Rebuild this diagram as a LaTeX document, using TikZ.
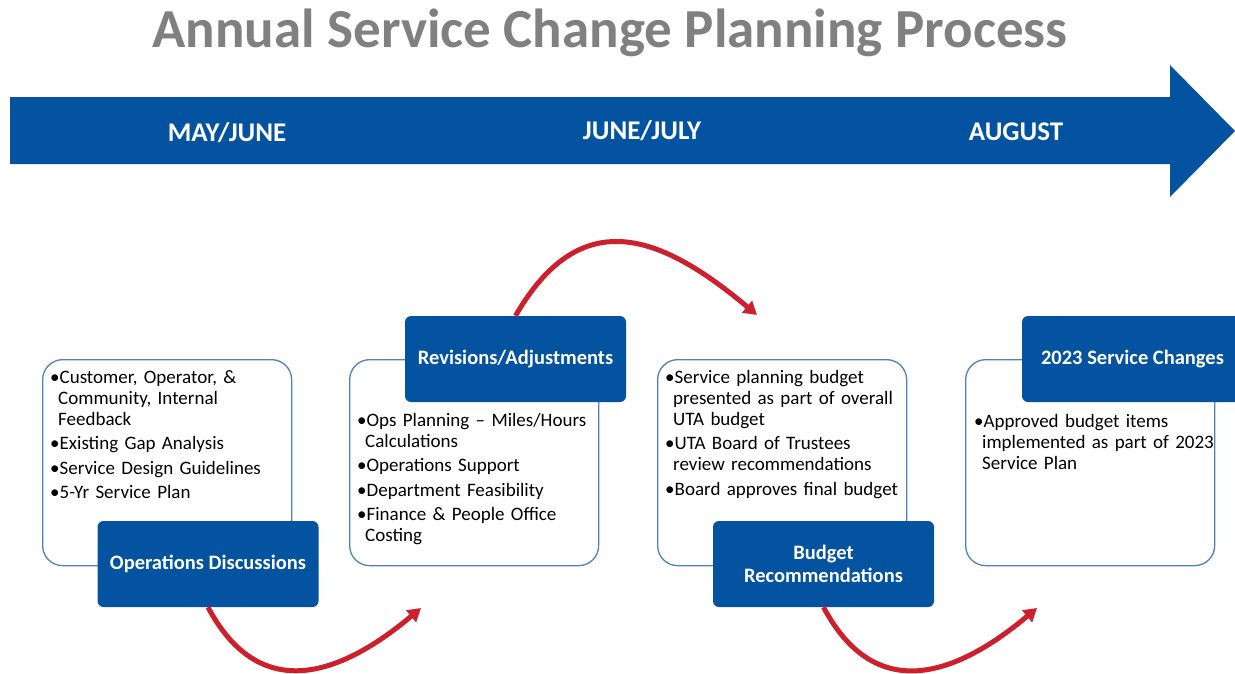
\documentclass[tikz,border=0pt]{standalone}
\usepackage{fontspec}
\setmainfont{Carlito}
\usetikzlibrary{positioning,arrows.meta}
\definecolor{utablue}{RGB}{4,83,160}
\definecolor{edgeblue}{RGB}{79,129,189}
\definecolor{flowred}{RGB}{205,32,44}
\definecolor{titlegray}{RGB}{128,128,128}
\newcommand{\bitem}[1]{\noindent\hangindent=8pt\hangafter=1\textbullet#1\par}
\tikzset{
  panel/.style={draw=edgeblue, line width=1.3pt, rounded corners=20pt, fill=white, minimum width=249pt, minimum height=206pt, inner sep=0pt},
  tag/.style={fill=utablue, rounded corners=6pt, minimum width=221pt, minimum height=86pt, text=white, align=center, font=\fontsize{20.5}{22.5}\selectfont\bfseries},
  month/.style={text=white, font=\fontsize{27}{30}\selectfont\bfseries},
  bullets/.style={text width=240pt, align=left, inner sep=0pt, font=\fontsize{19}{21}\selectfont, execute at begin node={\setlength{\parskip}{3.5pt}}},
  flow/.style={draw=flowred, line width=5pt, -{Triangle[length=13pt,width=15pt]}, looseness=1.3}
}
\begin{document}
\begin{tikzpicture}[x=1pt,y=1pt]

\clip (0,0) rectangle (1235,-673);

% title
\node (title) [text=titlegray, font=\fontsize{55}{62}\selectfont\bfseries] at (610,-33) {Annual Service Change Planning Process};

% timeline arrow
\fill[utablue] (10,-97) -- (1170,-97) -- (1170,-65) -- (1235,-131) -- (1170,-197) -- (1170,-164) -- (10,-164) -- cycle;
\node (may) [month] at (227,-133) {MAY/JUNE};
\node (june) [month] at (642,-131) {JUNE/JULY};
\node (aug) [month] at (1016,-132) {AUGUST};

% panels
\node (box1) [panel, anchor=north west] at (42,-359) {};
\node (box2) [panel, anchor=north west] at (349,-359) {};
\node (box3) [panel, anchor=north west] at (657,-359) {};
\node (box4) [panel, anchor=north west] at (965,-359) {};

\node (txt1) [bullets, below right=11pt and 8pt of box1.north west] {%
\bitem{Customer, Operator, \&\newline Community, Internal\newline Feedback}
\bitem{Existing Gap Analysis}
\bitem{Service Design Guidelines}
\bitem{5-Yr Service Plan}};
\node (txt2) [bullets, below right=54pt and 8pt of box2.north west] {%
\bitem{Ops Planning -- Miles/Hours\newline Calculations}
\bitem{Operations Support}
\bitem{Department Feasibility}
\bitem{Finance \& People Office\newline Costing}};
\node (txt3) [bullets, below right=11pt and 8pt of box3.north west] {%
\bitem{Service planning budget\newline presented as part of overall\newline UTA budget}
\bitem{UTA Board of Trustees\newline review recommendations}
\bitem{Board approves final budget}};
\node (txt4) [bullets, below right=55pt and 9pt of box4.north west] {%
\bitem{Approved budget items\newline implemented as part of 2023\newline Service Plan}};

% stage tags
\node (ops) [tag] at (208,-564) {Operations Discussions};
\node (rev) [tag] at (515.5,-359) {Revisions/Adjustments};
\node (budget) [tag] at (823.5,-564) {Budget\\Recommendations};
\node (svc) [tag] at (1132.5,-359) {2023 Service Changes};

% red flow arrows
\coordinate (tipA) at (421,-608);
\coordinate (tipB) at (757,-315);
\coordinate (tipC) at (1037,-608);
\draw [flow] (ops.south) to[out=-62,in=-140] (tipA);
\draw [flow] (rev.north) to[out=60,in=140,looseness=1.36] (tipB);
\draw [flow] (budget.south) to[out=-62,in=-140] (tipC);

\end{tikzpicture}
\end{document}
